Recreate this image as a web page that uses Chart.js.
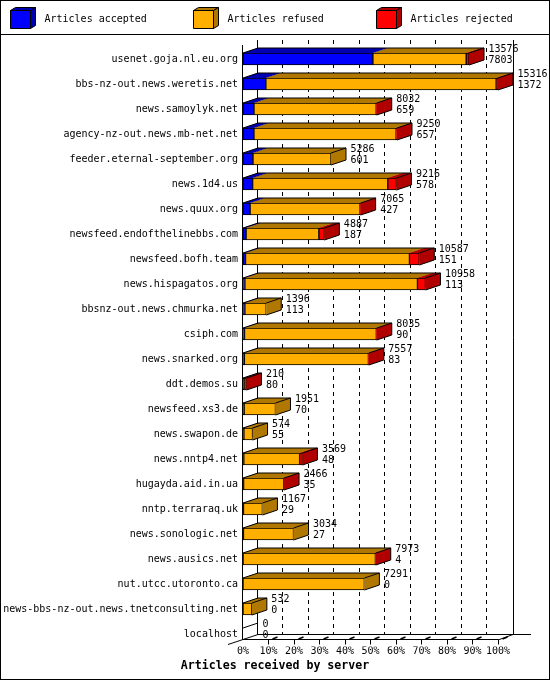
<!DOCTYPE html>
<html><head><meta charset="utf-8">
<script src="https://cdn.jsdelivr.net/npm/chart.js@4/dist/chart.umd.min.js"></script>
<style>html,body{margin:0;padding:0;background:#fff}canvas{display:block}</style>
</head><body>
<canvas id="c" width="550" height="680"></canvas>
<script>
const categories = ['usenet.goja.nl.eu.org','bbs-nz-out.news.weretis.net','news.samoylyk.net','agency-nz-out.news.mb-net.net','feeder.eternal-september.org','news.1d4.us','news.quux.org','newsfeed.endofthelinebbs.com','newsfeed.bofh.team','news.hispagatos.org','bbsnz-out.news.chmurka.net','csiph.com','news.snarked.org','ddt.demos.su','newsfeed.xs3.de','news.swapon.de','news.nntp4.net','hugayda.aid.in.ua','nntp.terraraq.uk','news.sonologic.net','news.ausics.net','nut.utcc.utoronto.ca','news-bbs-nz-out.news.tnetconsulting.net','localhost'];
const totals   = [13576,15316,8032,9250,5286,9216,7065,4887,10587,10958,1396,8035,7557,210,1951,574,3569,2466,1167,3034,7973,7291,532,0];
const accepted = [7803,1372,659,657,601,578,427,187,151,113,113,90,83,80,70,55,48,35,29,27,4,0,0,0];
const rejected = [170,110,30,50,0,520,30,330,590,480,0,25,25,120,0,0,170,20,0,0,20,0,0,0];
const tickLabels = ['0%','10%','20%','30%','40%','50%','60%','70%','80%','90%','100%'];
const seriesNames = ['Articles accepted','Articles refused','Articles rejected'];
const axisTitle = 'Articles received by server';

const frontColors = ['#0000ff','#ffaf00','#ff0000'];
const darkColors  = ['#0000b0','#b07800','#b00000'];
const FONT = 'DejaVu Sans Mono';

const refused = totals.map((t,i) => Math.max(0, t - accepted[i] - rejected[i]));
const maxTotal = Math.max(...totals);
const seriesValues = [accepted, refused, rejected];

const DX = 15, DY = 5;

function line(ctx, x1, y1, x2, y2){ ctx.beginPath(); ctx.moveTo(x1,y1); ctx.lineTo(x2,y2); ctx.stroke(); }
function poly(ctx, pts, fill, stroke){
  ctx.beginPath(); ctx.moveTo(pts[0][0], pts[0][1]);
  for (let k=1;k<pts.length;k++) ctx.lineTo(pts[k][0], pts[k][1]);
  ctx.closePath();
  if (fill){ ctx.fillStyle = fill; ctx.fill(); }
  if (stroke){ ctx.strokeStyle = stroke; ctx.stroke(); }
}

const threeD = {
  id: 'threeD',
  beforeDraw(chart){
    const ctx = chart.ctx;
    ctx.save();
    ctx.fillStyle = '#fff'; ctx.fillRect(0,0,chart.width,chart.height);
    ctx.restore();
  },
  beforeDatasetsDraw(chart){
    const ctx = chart.ctx, ca = chart.chartArea, xs = chart.scales.x;
    const frontTop = ca.top - 1.5, backTop = frontTop - DY;
    const floorF = ca.bottom - 7, floorB = floorF - DY;
    const L = ca.left - 0.5, R = ca.right;
    ctx.save();
    ctx.strokeStyle = '#000'; ctx.lineWidth = 1;
    // dashed gridlines on back wall
    ctx.setLineDash([4,4]);
    xs.ticks.forEach((t,k) => {
      if (k === 0 || k === xs.ticks.length-1) return;
      const gx = Math.floor(xs.getPixelForValue(t.value) + 14) + 0.5;
      line(ctx, gx, backTop, gx, floorB);
    });
    ctx.setLineDash([]);
    // frame
    line(ctx, L, frontTop, L, floorF);
    line(ctx, L+DX, backTop, L+DX, floorB);
    line(ctx, Math.floor(R+DX)+0.5, backTop, Math.floor(R+DX)+0.5, floorB);
    line(ctx, L, floorF, R, floorF);
    line(ctx, L+DX, floorB, R+DX+18, floorB);
    line(ctx, R, floorF+0.5, R+DX, floorB);
    line(ctx, ca.left-DX, floorF+DY, ca.left+DX, floorB);
    // front ticks
    xs.ticks.forEach((t,k) => {
      if (k === 0) return;
      const fx = Math.floor(xs.getPixelForValue(t.value)) + 0.5;
      line(ctx, fx, floorF, fx, floorF+5);
      ctx.lineWidth = 1.5;
      line(ctx, fx+4, floorF-0.5, fx+9, floorF-2.5);
      ctx.lineWidth = 1;
    });

    // bars
    const metas = chart.data.datasets.map((d,i) => chart.getDatasetMeta(i));
    for (let j = 0; j < categories.length; j++){
      let first = null, last = null, top = 0, bot = 0;
      for (let i = 0; i < metas.length; i++){
        const v = chart.data.datasets[i].data[j];
        const el = metas[i].data[j];
        const p = el.getProps(['x','base','y','height'], true);
        top = p.y - p.height/2; bot = p.y + p.height/2;
        if (!v) continue;
        el.draw(ctx);
        const x0 = Math.min(p.base, p.x), x1 = Math.max(p.base, p.x);
        ctx.lineWidth = 1;
        poly(ctx, [[x0,top],[x1,top],[x1+DX,top-DY],[x0+DX,top-DY]], darkColors[i], null);
        poly(ctx, [[x1,top],[x1+DX,top-DY],[x1+DX,bot-DY],[x1,bot]], darkColors[i], null);
        if (first === null) first = x0;
        last = x1;
      }
      ctx.strokeStyle = '#000'; ctx.lineWidth = 1;
      if (first !== null){
        ctx.beginPath();
        ctx.moveTo(first, top); ctx.lineTo(first+DX, top-DY); ctx.lineTo(last+DX, top-DY);
        ctx.lineTo(last+DX, bot-DY); ctx.lineTo(last, bot);
        ctx.moveTo(last, top); ctx.lineTo(last+DX, top-DY);
        ctx.stroke();
      } else {
        line(ctx, ca.left, top, ca.left+DX, top-DY);
      }
      // value labels
      const ex = xs.getPixelForValue(totals[j]) + DX + 4.5;
      const cy = (top + bot)/2;
      ctx.fillStyle = '#000';
      ctx.font = '10px "' + FONT + '"';
      ctx.textAlign = 'left'; ctx.textBaseline = 'middle';
      ctx.fillText(String(totals[j]), ex, cy - 9.5);
      ctx.fillText(String(accepted[j]), ex, cy + 1.5);
    }
    ctx.restore();
    return false;
  },
  afterDraw(chart){
    const ctx = chart.ctx;
    ctx.save();
    ctx.strokeStyle = '#000'; ctx.lineWidth = 1;
    ctx.strokeRect(0.5, 0.5, chart.width-1, chart.height-1);
    line(ctx, 0, 34.5, chart.width, 34.5);
    // legend
    chart.data.datasets.forEach((ds, i) => {
      const x = 10.5 + i*183, y = 10.5, w = 20, h = 18, dx = 5, dy = 3;
      poly(ctx, [[x,y],[x+w,y],[x+w,y+h],[x,y+h]], ds.backgroundColor, '#000');
      poly(ctx, [[x,y],[x+dx,y-dy],[x+w+dx,y-dy],[x+w,y]], darkColors[i], '#000');
      poly(ctx, [[x+w,y],[x+w+dx,y-dy],[x+w+dx,y+h-dy],[x+w,y+h]], darkColors[i], '#000');
      ctx.fillStyle = '#000';
      ctx.font = '10px "' + FONT + '"';
      ctx.textAlign = 'left'; ctx.textBaseline = 'middle';
      ctx.fillText(ds.label, x + 34, 19.5);
    });
    ctx.restore();
  }
};

new Chart(document.getElementById('c'), {
  type: 'bar',
  data: {
    labels: categories,
    datasets: seriesNames.map((name, i) => ({
      label: name,
      data: seriesValues[i],
      backgroundColor: frontColors[i],
      borderColor: '#000',
      borderWidth: 1,
      borderSkipped: false,
      barThickness: 12,
      yAxisID: 'y',
      xAxisID: 'x'
    }))
  },
  options: {
    indexAxis: 'y',
    responsive: false,
    animation: false,
    devicePixelRatio: 1,
    layout: { padding: { top: 46.5, left: 0, right: 0, bottom: 0 }, autoPadding: false },
    plugins: {
      legend: { display: false },
      tooltip: { enabled: false },
      title: {
        display: true, position: 'bottom', text: axisTitle, color: '#000',
        font: { family: FONT, size: 11.6, weight: 'bold', lineHeight: '14px' },
        padding: { top: 0, bottom: 7 }
      }
    },
    scales: {
      x: {
        type: 'linear', position: 'bottom', stacked: true, min: 0, max: maxTotal,
        grid: { display: false, drawTicks: false }, border: { display: false },
        afterBuildTicks: s => { s.ticks = tickLabels.map((l, k) => ({ value: k * maxTotal / (tickLabels.length - 1) })); },
        afterFit: s => { s.height = 12.5; },
        ticks: { autoSkip: false, maxRotation: 0, padding: -1.5, color: '#000',
          font: { family: FONT, size: 10 }, callback: (v, k) => tickLabels[k] }
      },
      y: {
        type: 'category', position: 'left', stacked: true,
        grid: { display: false, drawTicks: false }, border: { display: false },
        afterFit: s => { s.width = 243; },
        ticks: { autoSkip: false, padding: 5, color: '#000', font: { family: FONT, size: 10 } }
      },
      yr: {
        type: 'category', position: 'right', display: true,
        grid: { display: false, drawTicks: false }, border: { display: false },
        ticks: { display: false },
        afterFit: s => { s.width = 52; }
      }
    }
  },
  plugins: [threeD]
});
</script>
</body></html>
